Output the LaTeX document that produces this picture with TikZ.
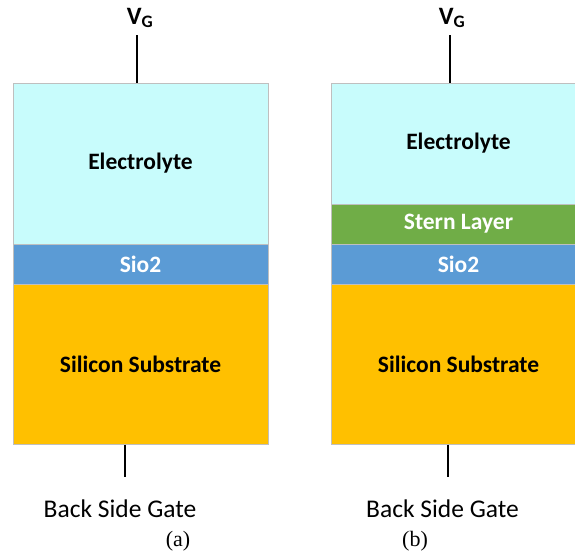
\documentclass[tikz,border=0pt]{standalone}
\usepackage{fontspec}
\setmainfont{Carlito}
\newfontfamily\capfont{Liberation Serif}
\usetikzlibrary{positioning}
\definecolor{elec}{HTML}{C8FCFC}
\definecolor{oxide}{HTML}{5B9BD5}
\definecolor{stern}{HTML}{70AD47}
\definecolor{subst}{HTML}{FFC000}
\tikzset{layer/.style={draw=black!25,line width=1pt,minimum width=255pt,inner sep=0pt,font=\fontsize{23.5}{26}\selectfont\bfseries},wire/.style={line width=2.8pt,black},gate/.style={font=\fontsize{25}{28}\selectfont\bfseries,inner sep=0pt},lbl/.style={font=\fontsize{25.5}{28}\selectfont,inner sep=0pt},sublbl/.style={font=\capfont\fontsize{22}{24}\selectfont,inner sep=0pt}}

\begin{document}
\begin{tikzpicture}[x=1pt,y=-1pt]
\useasboundingbox (0,0) rectangle (575,554);
\clip (0,0) rectangle (575,554);
% (a) without stern layer
\node[layer,fill=elec,minimum height=161pt] (elecA) at (140.5,163.5) {Electrolyte};
\node[layer,fill=oxide,text=white,minimum height=40pt] (oxA) at (140.5,264) {Sio2};
\node[layer,fill=subst,minimum height=160pt] (subA) at (140.5,364) {Silicon Substrate};
\node[gate] (vgA) at (140,18) {V\textsubscript{G}};
\coordinate (topA) at (137,35);
\coordinate (botA) at (125,477);
\draw[wire] (topA) -- (topA |- elecA.north);
\draw[wire] (botA |- subA.south) -- (botA);
\node[lbl] (bsgA) at (120,509) {Back Side Gate};
\node[sublbl] (capA) at (178,541) {(a)};
% (b) with stern layer
\node[layer,fill=elec,minimum height=121pt] (elecB) at (458.5,143.5) {Electrolyte};
\node[layer,fill=stern,text=white,minimum height=40pt] (sternB) at (458.5,224) {Stern Layer};
\node[layer,fill=oxide,text=white,minimum height=40pt] (oxB) at (458.5,264) {Sio2};
\node[layer,fill=subst,minimum height=160pt] (subB) at (458.5,364) {Silicon Substrate};
\node[gate] (vgB) at (452,18) {V\textsubscript{G}};
\coordinate (topB) at (450,35);
\coordinate (botB) at (448,477);
\draw[wire] (topB) -- (topB |- elecB.north);
\draw[wire] (botB |- subB.south) -- (botB);
\node[lbl] (bsgB) at (442.5,509) {Back Side Gate};
\node[sublbl] (capB) at (415,541) {(b)};
\end{tikzpicture}
\end{document}
